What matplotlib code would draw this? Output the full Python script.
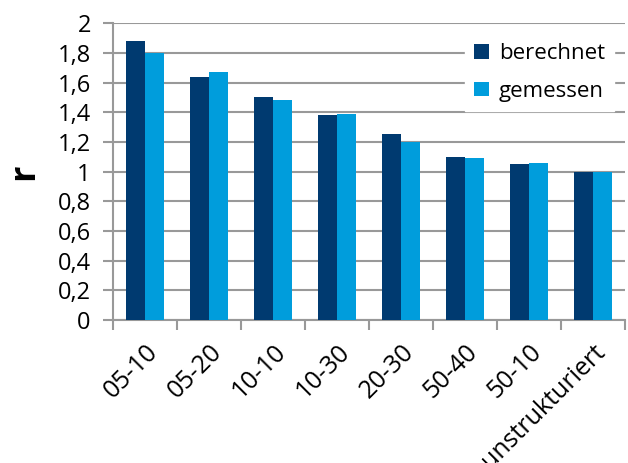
import numpy as np
import matplotlib
matplotlib.use("Agg")
import matplotlib.pyplot as plt

# Verhältnis r je Strukturvariante
categories = ["05-10", "05-20", "10-10", "10-30", "20-30", "50-40", "50-10", "unstrukturiert"]
berechnet = [1.88, 1.64, 1.50, 1.38, 1.25, 1.10, 1.05, 1.00]
gemessen = [1.80, 1.67, 1.48, 1.39, 1.20, 1.09, 1.06, 1.00]

plt.rcParams['font.family'] = ['Open Sans', 'DejaVu Sans']

fig = plt.figure(figsize=(6.28, 4.63), dpi=100)
ax = fig.add_axes([0.18, 0.309, 0.815, 0.641])

x = np.arange(len(categories))
w = 0.3
ax.bar(x - w / 2, berechnet, w, color="#003a70", label="berechnet", zorder=3)
ax.bar(x + w / 2, gemessen, w, color="#009ddc", label="gemessen", zorder=3)

ax.set_xlim(-0.5, len(categories) - 0.5)
ax.set_ylim(0, 2)
yt = np.arange(0, 2.01, 0.2)
ax.set_yticks(yt)
ax.set_yticklabels([f"{v:.1f}".replace(".", ",").replace(",0", "") for v in yt])
ax.grid(axis="y", color="#999999", linewidth=1.5, zorder=0)

# category ticks sit on the boundaries between groups
ax.set_xticks(np.arange(-0.5, len(categories), 1.0))
ax.set_xticklabels([])
ax.set_xticks(x, minor=True)
ax.set_xticklabels(categories, minor=True, rotation=45, ha="right", va="top",
                   rotation_mode="anchor", fontsize=18)
ax.tick_params(axis="x", which="minor", length=0, pad=14)
ax.tick_params(axis="x", which="major", length=7, color="#999999", width=1.5)
ax.tick_params(axis="y", length=7, color="#999999", width=1.5, labelsize=17, pad=9)

for side in ["top", "right"]:
    ax.spines[side].set_visible(False)
for side in ["left", "bottom"]:
    ax.spines[side].set_color("#999999")
    ax.spines[side].set_linewidth(1.5)

ax.set_ylabel("r", fontsize=26, fontweight="bold", labelpad=11)

leg = ax.legend(loc="upper right", bbox_to_anchor=(1.0, 1.0), fontsize=16, frameon=True,
                fancybox=False, edgecolor="white", framealpha=1, handlelength=0.65,
                handleheight=0.65, handletextpad=0.45, labelspacing=0.75, borderpad=0.4)

fig.savefig("out.png", dpi=100)
